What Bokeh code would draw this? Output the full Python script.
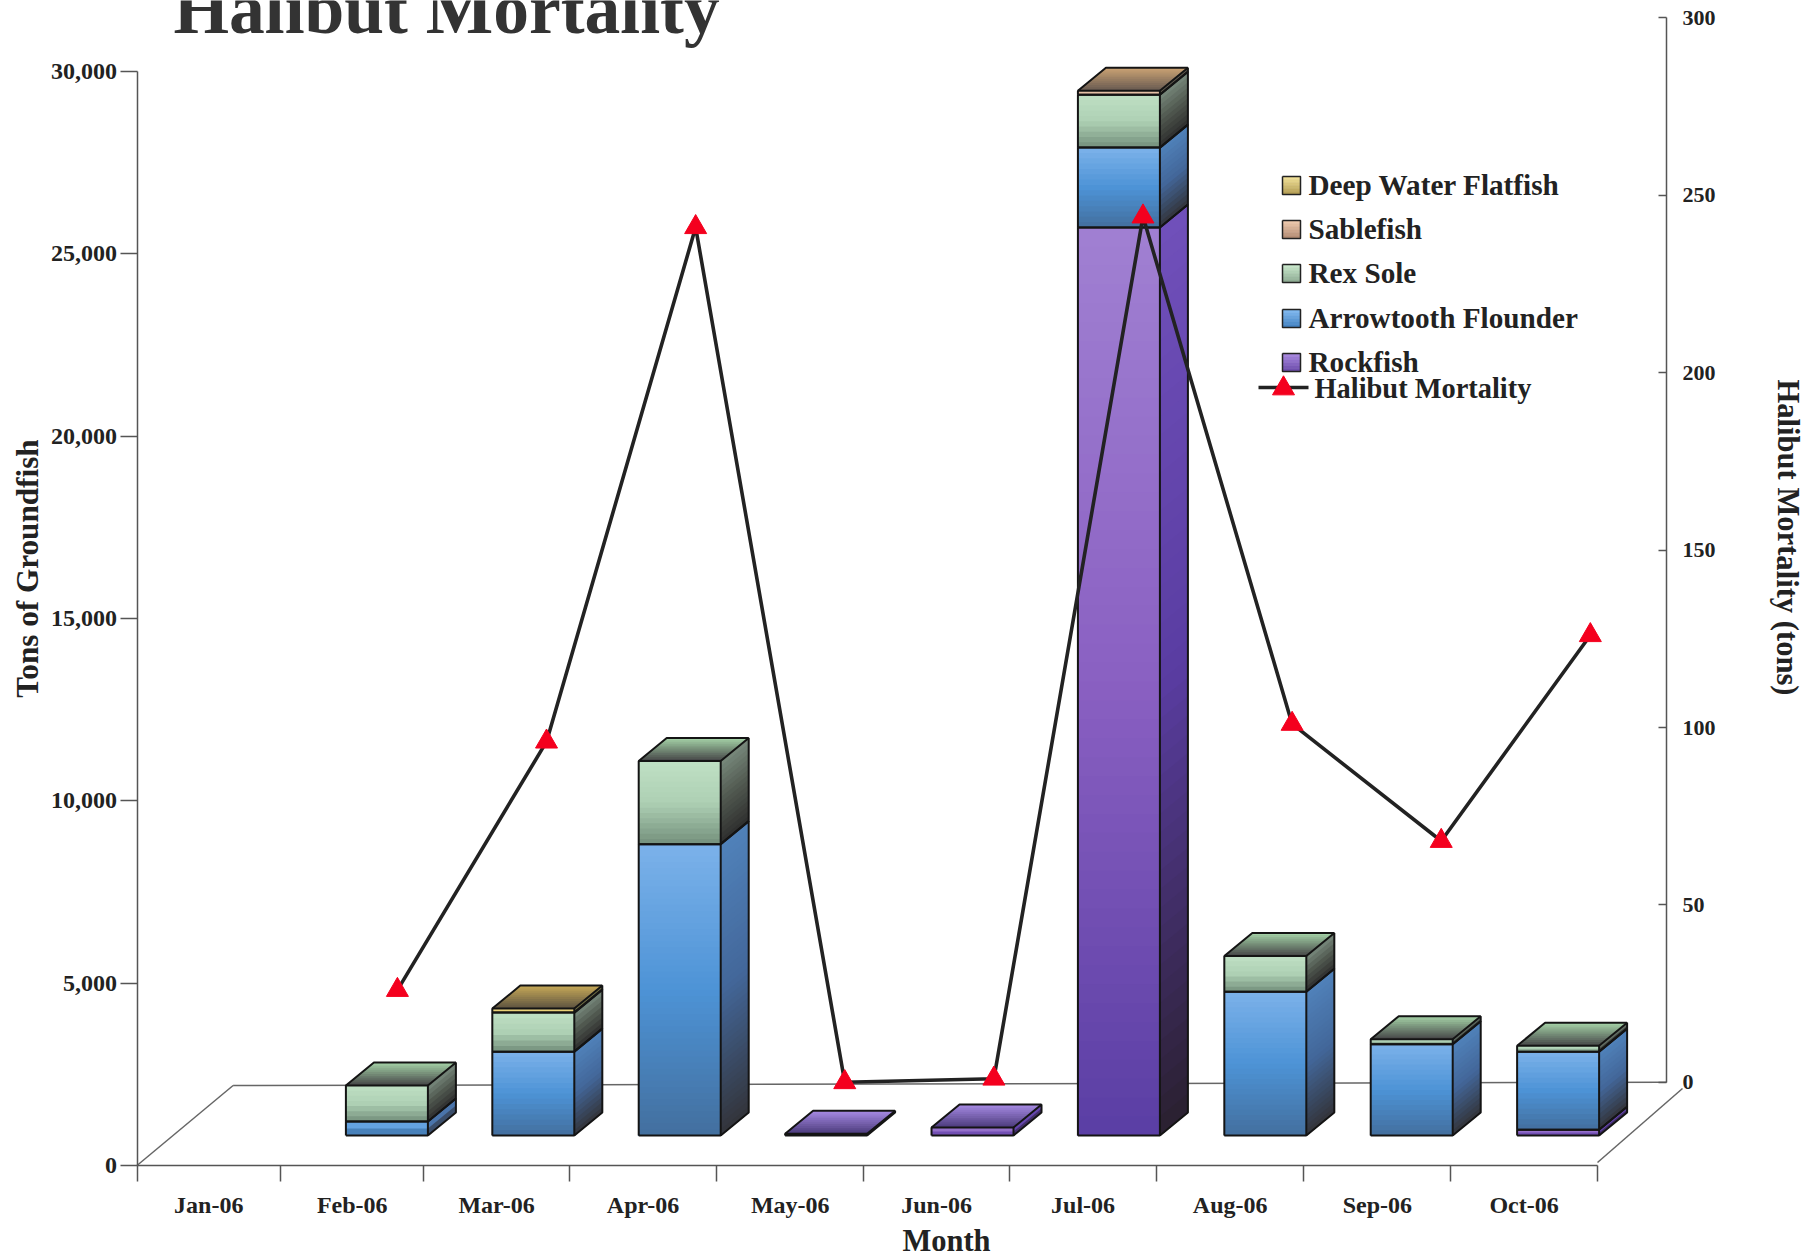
from bokeh.plotting import figure
from bokeh.models import (Range1d, LinearAxis, FixedTicker, NumeralTickFormatter, Label,
                          ColumnDataSource)
from bokeh.embed import file_html
from bokeh.resources import INLINE

months = ["Jan-06", "Feb-06", "Mar-06", "Apr-06", "May-06", "Jun-06", "Jul-06", "Aug-06", "Sep-06", "Oct-06"]
rockfish   = [0, 0,    0,    0, 50, 220, 24900,    0,    0,  160]
arrowtooth = [0, 385, 2300, 7990, 0,   0,  2190, 3940, 2500, 2140]
rex_sole   = [0, 985, 1070, 2280, 0,   0,  1450,  980,  140,  160]
sablefish  = [0, 0,    0,    0,  0,   0,   110,    0,    0,    0]
deep_water = [0, 0,   110,   0,  0,   0,     0,    0,    0,    0]
halibut    = [float("nan"), 26, 96, 241, 0, 1, 244, 101, 68, 126]
left_ticks = [0, 5000, 10000, 15000, 20000, 25000, 30000]
right_ticks = [0, 50, 100, 150, 200, 250, 300]
month_edges = [0, 0.983, 1.965, 2.96, 3.97, 4.975, 5.975, 6.98, 7.99, 8.995, 10]

FONT = "Liberation Serif"
TXT = "#222222"
# layout in reference pixels
W, H = 1814, 1255
L, B = 136.5, 1165.0
RAX = 1666.0
XU = 146.05
YU = 1094 / 30000
RU = (1081.8 - 17.4) / 300
DX, DY = 28 / XU, 23 / YU
BASE = 30 / YU
BAR0, BARSTEP, BARW = 0.428, 1.0024, 82 / XU
LINE0, LINESTEP = 0.762, 1.021


def px(v):
    return (v - L) / XU


def py(v):
    return (B - v) / YU


p = figure(width=W, height=H, output_backend="svg", toolbar_location=None,
           x_range=Range1d(px(0), px(W)), y_range=Range1d(py(H), py(0)),
           min_border_left=0, min_border_right=0, min_border_top=0, min_border_bottom=0,
           background_fill_color="white", border_fill_color="white", outline_line_color=None)
p.grid.visible = False
p.extra_y_ranges = {"mort": Range1d((1081.8 - H) / RU, 1081.8 / RU)}

# axes
ya = p.yaxis[0]
ya.fixed_location = 0
ya.ticker = FixedTicker(ticks=left_ticks)
ya.formatter = NumeralTickFormatter(format="0,0")
ya.bounds = (0, 30000)
xa = p.xaxis[0]
xa.fixed_location = 0
label_pos = [(month_edges[i] + month_edges[i + 1]) / 2 for i in range(len(months))]
xa.ticker = FixedTicker(ticks=label_pos, minor_ticks=month_edges)
xa.major_label_overrides = dict(zip(label_pos, months))
xa.bounds = (0, 10)
xa.major_tick_line_color = None
xa.minor_tick_in = 0
xa.minor_tick_out = 16
xa.minor_tick_line_color = "#555555"
xa.minor_tick_line_width = 1.5
xa.major_tick_out = 0
xa.major_tick_in = 0
xa.major_label_standoff = 10
ra = LinearAxis(y_range_name="mort", ticker=FixedTicker(ticks=right_ticks), bounds=(0, 300),
                fixed_location=px(RAX))
p.add_layout(ra, "right")
ra.major_tick_in = 8
ra.major_tick_out = 0
ra.major_label_standoff = 16
ya.major_tick_in = 0
ya.major_tick_out = 17
ya.major_label_standoff = 3
for a, fs in ((ya, "24px"), (xa, "24px"), (ra, "22px")):
    if a is not xa:
        a.minor_tick_line_color = None
        a.major_tick_line_color = "#555555"
    a.axis_line_color = "#555555"
    a.axis_line_width = 1.5
    a.major_tick_line_width = 1.5
    a.major_label_text_font = FONT
    a.major_label_text_font_style = "bold"
    a.major_label_text_font_size = fs
    a.major_label_text_color = TXT

# floor lines
p.line([px(L), px(232.6)], [py(1165), py(1085)], line_color="#666666", line_width=1.5)
p.line([px(232.6), px(1666)], [py(1085), py(1081.8)], line_color="#666666", line_width=1.5)
p.line([px(1597), px(1682)], [py(1162), py(1088)], line_color="#666666", line_width=1.5)

STYLES = {
    "rock": dict(front=["#a080d2", "#8a60c2", "#5a3ea4"], side=["#7050ba", "#5a3da2", "#2a2030"], top=["#4a3a7a", "#a98ce6"]),
    "arrow": dict(front=["#7cb2ea", "#4d93d6", "#436f9e"], side=["#5082ba", "#43679a", "#33343a"], top=["#3a4a60", "#7ab0e8"]),
    "rex": dict(front=["#bfe0c4", "#aed0b4", "#74907c"], side=["#78897c", "#50584f", "#2e2e2e"], top=["#444446", "#a6d4a8"]),
    "sable": dict(front=["#eccaae", "#d8b098"], side=["#70685c", "#4a4640"], top=["#665850", "#cca474"]),
    "dwf": dict(front=["#f2de90", "#e2c45e"], side=["#8a8550", "#50503a"], top=["#5c5240", "#c8aa58"]),
}


def hexrgb(c):
    return tuple(int(c[i:i + 2], 16) for i in (1, 3, 5))


def grad(stops, t):
    t = max(0.0, min(1.0, t)) * (len(stops) - 1)
    i = min(int(t), len(stops) - 2)
    f = t - i
    a, b = hexrgb(stops[i]), hexrgb(stops[i + 1])
    return "#%02x%02x%02x" % tuple(round(a[k] + (b[k] - a[k]) * f) for k in range(3))


faces = dict(xs=[], ys=[], c=[])
edge_x, edge_y = [], []


def add_face(xs, ys, color):
    faces["xs"].append(xs)
    faces["ys"].append(ys)
    faces["c"].append(color)


series = [("rock", rockfish), ("arrow", arrowtooth), ("rex", rex_sole), ("sable", sablefish), ("dwf", deep_water)]
for m in range(len(months)):
    x0 = BAR0 + BARSTEP * m
    x1 = x0 + BARW
    level = BASE
    last = None
    for name, vals in series:
        v = vals[m]
        if v <= 0:
            continue
        lo, hi = level, level + v
        st = STYLES[name]
        n = max(2, min(48, int(v * YU / 5)))
        # each strip reaches the bottom of its face, later strips paint over it: no seams
        for k in range(n):
            a = hi + (lo - hi) * k / n
            add_face([x0, x1, x1, x0], [a, a, lo, lo], grad(st["front"], (k + 0.5) / n))
            add_face([x1, x1 + DX, x1 + DX, x1], [a, a + DY, lo + DY, lo], grad(st["side"], (k + 0.5) / n))
        edge_x.append([x0, x1, x1, x0, x0])
        edge_y.append([lo, lo, hi, hi, lo])
        edge_x.append([x1, x1 + DX, x1 + DX, x1])
        edge_y.append([lo, lo + DY, hi + DY, hi])
        level = hi
        last = name
    if last is None:
        continue
    # top face, painted from the back edge towards the front edge
    st = STYLES[last]
    for k in range(12):
        f = 1 - k / 12
        add_face([x0, x1, x1 + DX * f, x0 + DX * f], [level, level, level + DY * f, level + DY * f],
                 grad(st["top"], f - 1 / 24))
    edge_x.append([x0, x0 + DX, x1 + DX])
    edge_y.append([level, level + DY, level + DY])

p.patches("xs", "ys", source=ColumnDataSource(faces), fill_color="c", line_color=None)
p.multi_line(edge_x, edge_y, line_color="#141414", line_width=2)

# halibut line
line_x = [LINE0 + LINESTEP * i for i in range(len(months))]
p.line(line_x, halibut, y_range_name="mort", line_color="#222222", line_width=3.6)
p.scatter(line_x, halibut, y_range_name="mort", marker="triangle", size=22, fill_color="#f4001e", line_color="#f4001e")

# legend
legend_rows = [("Deep Water Flatfish", "dwf", 185, ["#f4e49c", "#b09a50"]),
               ("Sablefish", "sable", 229, ["#f2cdb0", "#b08870"]),
               ("Rex Sole", "rex", 273, ["#cdeccf", "#8aa890"]),
               ("Arrowtooth Flounder", "arrow", 318, ["#84bcf2", "#4080c0"]),
               ("Rockfish", "rock", 362, ["#ac8ce2", "#6848a8"])]
sw = dict(xs=[], ys=[], c=[])
for text, key, cy, stops in legend_rows:
    for k in range(6):
        a = cy - 9 + 3 * k
        sw["xs"].append([px(1282), px(1300), px(1300), px(1282)])
        sw["ys"].append([py(a), py(a), py(a + 3), py(a + 3)])
        sw["c"].append(grad(stops, (k + 0.5) / 6))
    p.add_layout(Label(x=px(1308), y=py(cy - 1), text=text, text_font=FONT, text_font_style="bold",
                       text_font_size="29.2px", text_color=TXT, text_baseline="middle"))
p.patches("xs", "ys", source=ColumnDataSource(sw), fill_color="c", line_color="c", line_width=0.5)
p.multi_line([[px(1282), px(1300), px(1300), px(1282), px(1282)] for _ in legend_rows],
             [[py(r[2] - 9), py(r[2] - 9), py(r[2] + 9), py(r[2] + 9), py(r[2] - 9)] for r in legend_rows],
             line_color="#222222", line_width=1.5)
p.line([px(1258), px(1308)], [py(387), py(387)], line_color="#222222", line_width=3.6)
p.scatter([px(1283)], [py(388)], marker="triangle", size=22, fill_color="#f4001e", line_color="#f4001e")
p.add_layout(Label(x=px(1314), y=py(388), text="Halibut Mortality", text_font=FONT, text_font_style="bold",
                   text_font_size="28.4px", text_color=TXT, text_baseline="middle"))

# titles
p.add_layout(Label(x=px(173), y=py(8), text="Halibut Mortality", text_font=FONT, text_font_style="bold",
                   text_font_size="71.5px", text_color="#333333", text_baseline="alphabetic"))
p.add_layout(Label(x=px(946), y=py(1240), text="Month", text_font=FONT, text_font_style="bold",
                   text_font_size="30.5px", text_color=TXT, text_align="center", text_baseline="middle"))
p.add_layout(Label(x=px(27), y=py(568), text="Tons of Groundfish", text_font=FONT, text_font_style="bold",
                   text_font_size="31.2px", text_color=TXT, text_align="center", text_baseline="middle", angle=1.5708))
p.add_layout(Label(x=px(1787), y=py(537), text="Halibut Mortality (tons)", text_font=FONT, text_font_style="bold",
                   text_font_size="30.6px", text_color=TXT, text_align="center", text_baseline="middle", angle=-1.5708))

open("out.html", "w").write(file_html(p, INLINE))
